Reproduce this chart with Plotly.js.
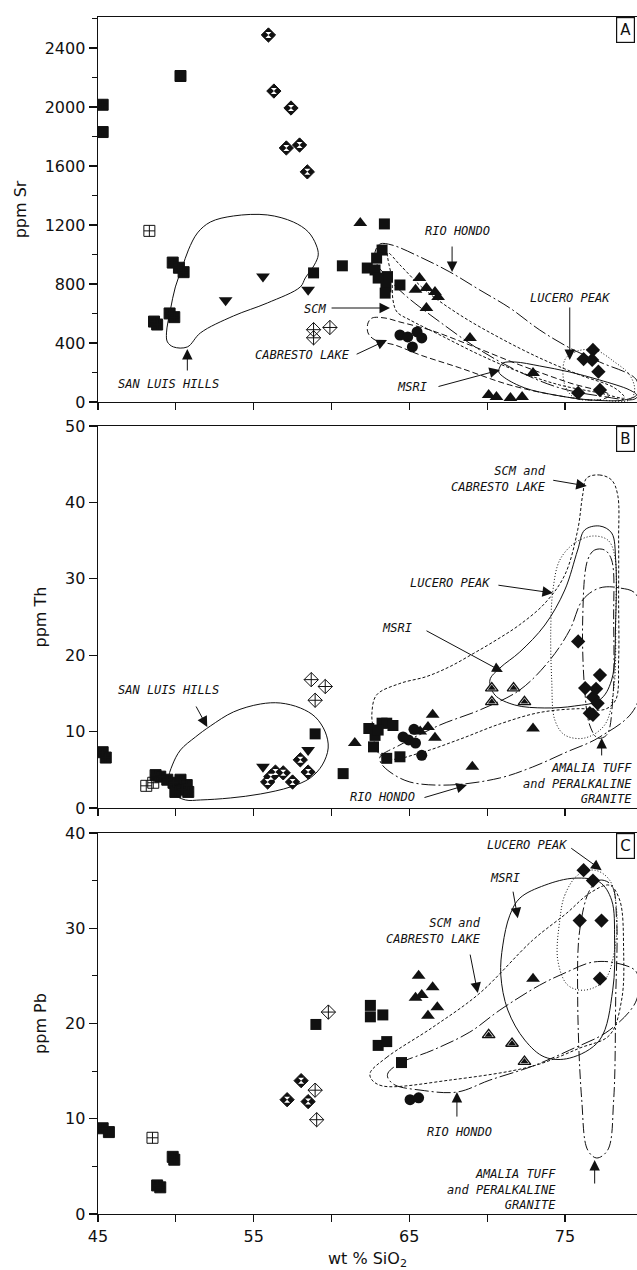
<!DOCTYPE html>
<html><head><meta charset="utf-8">
<script src="https://cdn.plot.ly/plotly-3.0.1.min.js"></script>
<style>html,body{margin:0;padding:0;background:#fff}#chart{width:637px;height:1270px}</style>
</head><body><div id="chart"></div><script>
// ---------- axis ticks ----------
const xTickVals = [45,50,55,60,65,70,75,80];
const xTickText = ['45','','55','','65','','75',''];
const srTicks = [0,400,800,1200,1600,2000,2400];
const thTicks = [0,10,20,30,40,50];
const pbTicks = [0,10,20,30,40];

// ---------- Panel A : Sr ----------
const A_chk_x = [45.3,45.3,50.3,49.8,50.2,50.5,48.6,48.8,49.6,49.9];
const A_chk_y = [2015,1830,2210,945,910,880,545,525,600,575];
const A_sqc_x = [48.3];
const A_sqc_y = [1160];
const A_hgd_x = [55.95,56.3,57.4,57.1,57.95,58.45];
const A_hgd_y = [2488,2108,1993,1722,1742,1560];
const A_tdn_x = [53.2,55.6,58.5];
const A_tdn_y = [690,850,760];
const A_dcr_x = [58.85,58.85,59.9];
const A_dcr_y = [490,435,505];
const A_sq_x = [58.85,63.4,60.7,63.25,62.9,62.3,62.8,63.6,63.0,63.5,63.45,64.4];
const A_sq_y = [875,1207,923,1030,975,908,895,850,840,780,738,793];
const A_tri_x = [61.85,65.65,65.4,66.1,66.65,66.85,66.1,68.9,72.95,70.1,70.6,71.5,72.25];
const A_tri_y = [1213,840,760,773,745,712,637,434,197,47,34,27,34];
const A_cir_x = [64.4,64.9,65.5,65.8,65.2];
const A_cir_y = [454,441,475,434,373];
const A_dia_x = [76.8,76.2,76.75,77.15,75.85,77.25];
const A_dia_y = [353,291,285,205,61,81];

// Panel A fields
const A_slh_x = [49.40,49.65,49.97,50.42,50.81,51.39,52.22,53.70,55.88,57.55,58.51,59.02,59.15,58.90,58.32,58.00,55.88,53.70,51.58,50.74,49.85,49.46,49.40];
const A_slh_y = [468,624,780,915,1031,1146,1220,1261,1268,1220,1153,1064,997,929,841,780,671,583,468,373,373,407,468];
const A_rh_x = [62.80,63.12,63.89,65.69,67.61,69.53,71.46,73.38,75.31,77.23,79.60,79.60,77.23,74.67,72.10,69.53,66.97,64.72,63.44,62.86,62.80];
const A_rh_y = [1017,1071,1064,983,881,759,637,488,366,271,149,27,41,95,203,353,542,725,861,949,1017];
const A_scm_x = [63.63,63.89,63.95,64.21,65.04,66.97,69.53,72.10,74.67,77.23,78.84,78.19,75.95,73.38,70.82,68.25,66.01,64.40,63.63];
const A_scm_y = [1010,827,692,610,556,454,319,203,115,61,27,95,183,298,434,590,759,929,1010];
const A_cab_x = [62.35,62.61,63.44,64.40,66.33,68.89,72.10,75.31,77.87,77.23,74.67,71.46,68.25,65.69,64.08,62.80,62.35,62.35];
const A_cab_y = [536,569,569,542,488,386,251,129,47,14,41,115,231,319,386,420,468,536];
const A_msri_x = [70.82,71.01,71.78,73.38,75.31,77.23,79.16,79.60,78.84,76.59,74.35,72.42,71.14,70.75,70.82];
const A_msri_y = [237,264,271,244,203,149,81,47,14,14,47,95,163,203,237];
const A_luc_x = [74.99,75.63,76.91,78.19,79.16,79.48,79.16,77.23,75.63,74.99,74.99];
const A_luc_y = [285,339,353,271,183,81,14,14,27,115,285];

// ---------- Panel B : Th ----------
const B_chk_x = [45.3,45.5,48.7,49.0,49.45,49.85,50.3,50.7,50.4,50.8,49.97];
const B_chk_y = [7.3,6.6,4.3,4.1,3.7,3.3,3.7,3.0,2.4,2.1,2.1];
const B_sqc_x = [48.1,48.55];
const B_sqc_y = [2.9,3.3];
const B_tdn_x = [55.6,58.5];
const B_tdn_y = [5.4,7.6];
const B_hgd_x = [56.1,56.4,55.9,56.9,57.5,58.0,58.5];
const B_hgd_y = [4.1,4.7,3.4,4.6,3.4,6.3,4.7];
const B_dcr_x = [58.7,59.6,58.95];
const B_dcr_y = [16.8,15.9,14.1];
const B_sq_x = [58.95,60.75,62.4,62.8,62.7,63.25,63.55,63.95,63.55,64.4,63.0];
const B_sq_y = [9.7,4.5,10.4,9.5,8.0,11.1,11.1,10.8,6.5,6.7,10.2];
const B_tri_x = [61.5,66.5,66.2,65.7,66.65,69.05,72.95];
const B_tri_y = [8.5,12.2,10.6,10.0,9.2,5.4,10.4];
const B_cir_x = [64.95,65.4,65.8,64.6,65.3];
const B_cir_y = [8.9,8.5,6.9,9.3,10.3];
const B_htr_x = [70.3,71.7,70.3,72.4];
const B_htr_y = [15.7,15.7,13.9,13.9];
const B_dia_x = [75.85,77.25,76.3,76.8,77.0,77.1,76.8,76.6];
const B_dia_y = [21.8,17.4,15.7,14.5,15.6,13.7,12.2,12.4];

// Panel B fields
const B_slh_x = [49.52,49.78,50.30,51.26,52.22,53.70,55.43,56.71,58.00,58.96,59.60,59.79,59.41,58.64,57.36,55.43,53.50,51.58,50.62,49.78,49.52];
const B_slh_y = [3.67,5.63,7.59,9.29,10.73,12.57,13.61,13.74,13.09,11.91,9.95,7.85,5.63,3.93,2.75,1.83,1.31,1.05,1.05,1.96,3.67];
const B_scl_x = [76.40,77.23,78.00,78.39,78.45,78.45,78.45,78.26,77.55,75.95,73.38,70.82,68.25,65.69,63.76,62.90,62.70,62.60,62.90,64.40,66.10,67.60,69.10,70.60,72.10,73.71,74.99,75.82,76.14,76.40];
const B_scl_y = [43.19,43.59,42.93,40.97,35.08,27.23,19.37,14.14,12.90,13.00,12.50,11.00,9.00,7.20,6.40,7.50,10.00,12.50,14.80,16.30,17.20,18.50,20.20,22.00,24.00,26.80,30.50,36.39,40.97,43.19];
const B_luc_x = [74.23,74.67,75.63,76.78,77.75,78.19,78.26,78.13,77.55,76.27,74.99,74.35,74.15,74.09,74.23];
const B_luc_y = [28.53,32.46,34.69,35.60,35.08,33.12,24.61,15.45,10.86,9.16,9.55,11.52,16.75,23.30,28.53];
const B_msri_x = [70.18,70.82,72.10,73.71,74.99,75.82,76.27,77.23,78.00,78.26,78.26,78.00,77.23,75.63,73.71,71.78,70.50,70.18];
const B_msri_y = [16.75,18.32,20.42,23.95,28.53,33.77,36.39,36.91,36.00,32.46,24.61,16.75,14.14,13.35,13.09,13.48,14.79,16.75];
const B_ama_x = [76.46,76.91,77.55,78.00,78.13,78.07,77.68,77.10,76.59,76.27,76.14,76.46];
const B_ama_y = [32.46,33.77,33.77,32.46,24.61,14.14,9.55,9.16,10.86,15.45,24.61,32.46];
const B_rh_x = [63.12,64.40,66.97,69.53,72.10,74.03,75.31,76.14,77.23,78.52,79.60,79.60,77.23,75.11,72.93,70.82,67.61,65.04,63.76,63.18,63.12];
const B_rh_y = [6.68,8.25,10.86,12.83,15.45,19.37,23.30,27.23,28.80,28.80,27.88,13.48,9.29,7.33,5.37,3.93,3.01,3.40,4.71,5.89,6.68];

// ---------- Panel C : Pb ----------
const C_chk_x = [45.3,45.7,48.8,49.0,49.8,49.9];
const C_chk_y = [9.0,8.6,3.0,2.8,6.0,5.7];
const C_sqc_x = [48.5];
const C_sqc_y = [8.0];
const C_hgd_x = [57.15,58.05,58.5];
const C_hgd_y = [12.0,14.0,11.8];
const C_dcr_x = [58.95,59.05,59.8];
const C_dcr_y = [13.0,9.9,21.2];
const C_sq_x = [59.0,62.5,62.5,63.3,63.0,63.55,64.5];
const C_sq_y = [19.9,21.9,20.7,20.9,17.7,18.1,15.9];
const C_tri_x = [65.6,66.5,65.4,65.8,66.8,66.2,72.95];
const C_tri_y = [25.0,23.8,22.7,23.0,21.7,20.8,24.7];
const C_htr_x = [70.1,71.6,72.4];
const C_htr_y = [18.8,17.9,16.0];
const C_cir_x = [65.05,65.6];
const C_cir_y = [12.0,12.2];
const C_dia_x = [75.95,77.35,77.25,76.2,76.8];
const C_dia_y = [30.8,30.8,24.7,36.1,35.0];

// Panel C fields
const C_msri_x = [72.10,73.71,75.63,77.23,78.00,78.19,78.07,77.23,75.31,73.71,72.42,71.33,70.88,71.01,71.46,72.10];
const C_msri_y = [33.16,34.52,35.26,34.84,32.95,28.75,23.50,18.26,16.37,16.47,18.26,21.41,25.08,28.23,31.37,33.16];
const C_luc_x = [74.67,74.99,75.82,76.91,77.87,78.32,78.19,77.55,76.27,75.18,74.54,74.67];
const C_luc_y = [30.85,33.47,35.57,36.10,35.05,31.90,27.70,24.55,23.50,24.03,26.65,30.85];
const C_ama_x = [76.59,77.23,78.00,78.32,78.26,78.13,77.75,77.04,76.46,76.08,75.82,75.95,76.59];
const C_ama_y = [34.00,35.05,34.52,30.85,22.46,11.96,6.72,5.88,6.72,11.96,22.46,29.80,34.00];
const C_rh_x = [63.63,64.40,66.52,68.89,70.82,73.38,75.11,76.78,78.32,79.60,79.60,77.87,75.31,72.93,70.18,68.06,65.69,64.08,63.63,63.63];
const C_rh_y = [14.80,15.84,17.21,19.10,21.41,24.03,25.39,26.44,26.34,25.39,22.46,19.31,17.21,15.53,14.06,12.80,13.01,13.54,14.27,14.80];
const C_scl_x = [62.48,63.57,66.52,69.53,72.93,75.11,76.59,77.87,78.52,78.77,78.64,77.87,75.95,72.93,67.61,63.31,62.61,62.48];
const C_scl_y = [14.80,16.47,19.62,23.19,28.75,31.58,33.68,34.52,32.95,27.70,22.46,18.78,17.42,15.53,14.06,13.43,14.06,14.80];

// ---------- label texts ----------
const labRH = 'RIO HONDO', labLP = 'LUCERO PEAK', labMS = 'MSRI', labSLH = 'SAN LUIS HILLS';
const labSCM = 'SCM', labCL = 'CABRESTO LAKE', labSC = 'SCM and<br>CABRESTO LAKE';
const labAM = 'AMALIA TUFF<br>and PERALKALINE<br>GRANITE';

// ---------- builders ----------
const K = '#111';
function pts(xs, ys, ax, sym, size, fill, lc, lw){
  return {type:'scatter', mode:'markers', x:xs, y:ys, xaxis:ax[0], yaxis:ax[1], hoverinfo:'skip', showlegend:false,
    marker:{symbol:sym, size:size, color:fill, line:{color:lc, width:lw}}};
}
function field(xs, ys, ax, dash){
  return {type:'scatter', mode:'lines', x:xs, y:ys, xaxis:ax[0], yaxis:ax[1], hoverinfo:'skip', showlegend:false,
    line:{color:K, width:1, dash:dash, shape:'spline', smoothing:1.0}};
}
function checker(xs, ys, ax){ return [pts(xs,ys,ax,'square',11,K,K,1), pts(xs,ys,ax,'cross-thin-open',7,K,'#fff',2)]; }
function hglass(xs, ys, ax){ return [pts(xs,ys,ax,'diamond',11,K,K,1), pts(xs,ys,ax,'hourglass',6,'#fff','#fff',0)]; }
function halftri(xs, ys, ax){ return [pts(xs,ys,ax,'triangle-up',11,'#fff',K,1.3), pts(xs,ys,ax,'triangle-up',7,K,K,0)]; }

const aA = ['x','y'], aB = ['x2','y2'], aC = ['x3','y3'];
const RHD = '14px,3px,2px,3px', SCD = '3px,2px', CLD = '6px,3px', LPD = '1px,2px', AMD = '10px,3px,2px,3px';

const traces = [
  field(A_slh_x,A_slh_y,aA,'solid'), field(A_rh_x,A_rh_y,aA,RHD), field(A_scm_x,A_scm_y,aA,SCD),
  field(A_cab_x,A_cab_y,aA,CLD), field(A_msri_x,A_msri_y,aA,'solid'), field(A_luc_x,A_luc_y,aA,LPD),
  ...checker(A_chk_x,A_chk_y,aA), pts(A_sqc_x,A_sqc_y,aA,'square-cross-open',11,K,K,1),
  ...hglass(A_hgd_x,A_hgd_y,aA), pts(A_tdn_x,A_tdn_y,aA,'triangle-down',12,K,K,0),
  pts(A_dcr_x,A_dcr_y,aA,'diamond-cross-open',11,K,K,1), pts(A_sq_x,A_sq_y,aA,'square',11,K,K,0),
  pts(A_tri_x,A_tri_y,aA,'triangle-up',12,K,K,0), pts(A_cir_x,A_cir_y,aA,'circle',11,K,K,0),
  pts(A_dia_x,A_dia_y,aA,'diamond',11,K,K,0),

  field(B_slh_x,B_slh_y,aB,'solid'), field(B_scl_x,B_scl_y,aB,SCD), field(B_luc_x,B_luc_y,aB,LPD),
  field(B_msri_x,B_msri_y,aB,'solid'), field(B_ama_x,B_ama_y,aB,AMD), field(B_rh_x,B_rh_y,aB,RHD),
  ...checker(B_chk_x,B_chk_y,aB), pts(B_sqc_x,B_sqc_y,aB,'square-cross-open',11,K,K,1),
  pts(B_tdn_x,B_tdn_y,aB,'triangle-down',12,K,K,0), ...hglass(B_hgd_x,B_hgd_y,aB),
  pts(B_dcr_x,B_dcr_y,aB,'diamond-cross-open',11,K,K,1), pts(B_sq_x,B_sq_y,aB,'square',11,K,K,0),
  pts(B_tri_x,B_tri_y,aB,'triangle-up',12,K,K,0), pts(B_cir_x,B_cir_y,aB,'circle',11,K,K,0),
  ...halftri(B_htr_x,B_htr_y,aB), pts(B_dia_x,B_dia_y,aB,'diamond',11,K,K,0),

  field(C_msri_x,C_msri_y,aC,'solid'), field(C_luc_x,C_luc_y,aC,LPD), field(C_ama_x,C_ama_y,aC,AMD),
  field(C_rh_x,C_rh_y,aC,RHD), field(C_scl_x,C_scl_y,aC,SCD),
  ...checker(C_chk_x,C_chk_y,aC), pts(C_sqc_x,C_sqc_y,aC,'square-cross-open',11,K,K,1),
  ...hglass(C_hgd_x,C_hgd_y,aC), pts(C_dcr_x,C_dcr_y,aC,'diamond-cross-open',11,K,K,1),
  pts(C_sq_x,C_sq_y,aC,'square',11,K,K,0), pts(C_tri_x,C_tri_y,aC,'triangle-up',12,K,K,0),
  ...halftri(C_htr_x,C_htr_y,aC), pts(C_cir_x,C_cir_y,aC,'circle',11,K,K,0),
  pts(C_dia_x,C_dia_y,aC,'diamond',11,K,K,0)
];

// ---------- annotations ----------
const LF = {family:'DejaVu Sans Mono', size:12, color:K, style:'italic'};
function lab(text, x, y, ax, align){
  return {text:text, x:x, y:y, xref:ax[0], yref:ax[1], showarrow:false, font:LF,
    xanchor: align==='right'?'right':'center', align: align||'center'};
}
function arr(x0, y0, x1, y1, ax){
  return {text:'', x:x1, y:y1, ax:x0, ay:y0, xref:ax[0], yref:ax[1], axref:ax[0], ayref:ax[1],
    showarrow:true, arrowhead:2, arrowsize:2.1, arrowwidth:1, arrowcolor:K};
}
function panel(t, yd){
  return {text:t, xref:'paper', yref:'paper', x:0.997, y:yd, xanchor:'right', yanchor:'top', showarrow:false,
    font:{family:'DejaVu Sans', size:15, color:K}, bordercolor:K, borderwidth:1.2, borderpad:3, bgcolor:'#fff'};
}
const annotations = [
  lab(labRH,68.09,1159,aA), arr(67.75,1064,67.75,881,aA),
  lab(labLP,75.31,705,aA), arr(75.31,651,75.31,285,aA),
  lab(labSCM,58.95,631,aA), arr(59.91,637,63.76,637,aA),
  lab(labCL,58.12,319,aA), arr(61.52,319,63.57,420,aA),
  lab(labMS,65.17,102,aA), arr(66.78,102,70.82,217,aA),
  lab(labSLH,49.52,122,aA), arr(50.74,203,50.74,359,aA),

  lab(labSC,73.9,43.0,aB,'right'), arr(74.15,42.93,76.40,42.15,aB),
  lab(labLP,67.61,29.45,aB), arr(70.63,29.19,74.23,28.14,aB),
  lab(labMS,64.21,23.56,aB), arr(66.01,23.30,71.01,17.80,aB),
  lab(labRH,63.25,1.44,aB), arr(65.88,1.31,68.70,3.01,aB),
  lab(labSLH,49.52,15.45,aB), arr(51.25,13.48,52.02,10.60,aB),
  lab(labAM,79.45,3.14,aB,'right'), arr(77.36,6.68,77.36,9.16,aB),

  lab(labLP,72.55,38.72,aC), arr(75.31,38.51,77.36,36.10,aC),
  lab(labMS,71.14,35.26,aC), arr(71.65,34.0,71.97,31.06,aC),
  lab(labSC,69.73,29.7,aC,'right'), arr(68.89,27.39,69.40,23.19,aC),
  lab(labRH,68.25,8.60,aC), arr(68.06,10.07,68.06,12.80,aC),
  lab(labAM,74.54,2.52,aC,'right'), arr(76.91,3.04,76.91,5.67,aC),

  panel('A',1.0), panel('B',0.6583), panel('C',0.3183)
];

// ---------- axes ----------
const TF = {family:'DejaVu Sans', size:16, color:K};
function xax(anchor, labels){
  return {anchor:anchor, range:[45,79.63], tickvals:xTickVals, ticktext:xTickText, showticklabels:labels,
    ticks:'outside', ticklen:7, tickwidth:1.2, tickcolor:K, showline:true, linewidth:1.4, linecolor:K, mirror:true,
    showgrid:false, zeroline:false, tickfont:TF};
}
function yax(dom, rng, tv, minor, title){
  const o = {domain:dom, range:rng, tickvals:tv, ticks:'outside', ticklen:8, tickwidth:1.2, tickcolor:K,
    showline:true, linewidth:1.4, linecolor:K, showgrid:false, zeroline:false, tickfont:TF,
    title:{text:title, font:TF, standoff:14}};
  if (minor) o.minor = {dtick:minor, tick0:0, ticks:'outside', ticklen:5, tickwidth:1, tickcolor:K, showgrid:false};
  return o;
}
const xa3 = xax('y3', true);
xa3.title = {text:'wt % SiO<sub>2</sub>', font:TF, standoff:10};

const layout = {
  width:637, height:1270, margin:{l:97.5, r:0, t:17, b:56},
  paper_bgcolor:'#fff', plot_bgcolor:'#fff', showlegend:false,
  font:{family:'DejaVu Sans', color:K},
  xaxis: xax('y', false), xaxis2: xax('y2', false), xaxis3: xa3,
  yaxis: yax([0.6784,1], [0,2610], srTicks, 200, 'ppm Sr'),
  yaxis2: yax([0.3392,0.6583], [0,50], thTicks, null, 'ppm Th'),
  yaxis3: yax([0,0.3183], [0,40], pbTicks, 5, 'ppm Pb'),
  annotations: annotations
};
Plotly.newPlot('chart', traces, layout, {displayModeBar:false, staticPlot:true});
</script></body></html>
